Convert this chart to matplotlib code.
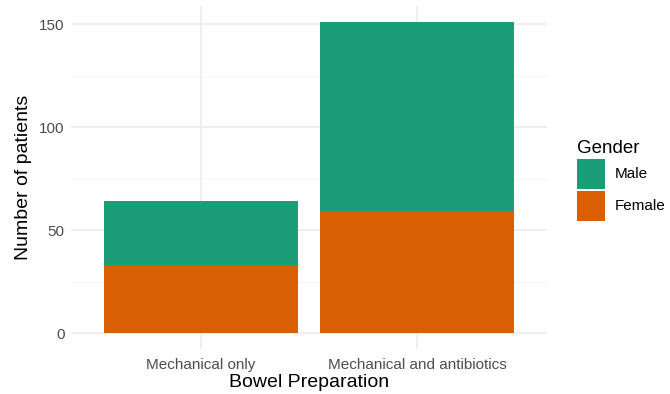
import matplotlib
matplotlib.use("Agg")
import matplotlib.pyplot as plt
from matplotlib.patches import Patch
import numpy as np

categories = ["Mechanical only", "Mechanical and antibiotics"]
female = [33, 59]
male = [31, 92]
series_names = ["Male", "Female"]
colors = {"Male": "#1B9E77", "Female": "#D95F02"}
y_ticks = [0, 50, 100, 150]

plt.rcParams['font.family'] = ['Liberation Sans', 'DejaVu Sans']

fig = plt.figure(figsize=(6.7, 3.94), dpi=100)
W, H = 670, 394
left, right, top, bottom = 71.4, 546.6, 6.4, 348.6
ax = fig.add_axes([left / W, 1 - bottom / H, (right - left) / W, (bottom - top) / H])

x = np.arange(1, len(categories) + 1)
ax.bar(x, female, width=0.9, color=colors["Female"], zorder=3)
ax.bar(x, male, width=0.9, bottom=female, color=colors["Male"], zorder=3)

total_max = max(f + m for f, m in zip(female, male))
pad = total_max * 0.05
ax.set_ylim(-pad, total_max + pad)
ax.set_xlim(0.4, len(categories) + 0.6)

ax.set_yticks(y_ticks)
ax.set_yticks([25, 75, 125], minor=True)
ax.set_xticks(x)
ax.set_xticklabels(categories)
ax.grid(True, which='major', color='#EBEBEB', linewidth=1.1, zorder=0)
ax.grid(True, which='minor', axis='y', color='#F3F3F3', linewidth=0.6, zorder=0)
for s in ax.spines.values():
    s.set_visible(False)
ax.tick_params(axis='both', which='both', length=0, labelsize=11, labelcolor='#4D4D4D')
ax.tick_params(axis='x', pad=7)
ax.tick_params(axis='y', pad=5)

ax.set_xlabel("Bowel Preparation", fontsize=14, color='black', labelpad=1)
ax.set_ylabel("Number of patients", fontsize=14, color='black', labelpad=5)

handles = [Patch(facecolor=colors[n], edgecolor='none') for n in series_names]
leg = fig.legend(handles, series_names, title="Gender", loc='upper left',
                 bbox_to_anchor=(577 / W, 1 - 140 / H), frameon=False,
                 fontsize=11, title_fontsize=13.5, handlelength=1.85, handleheight=2.64,
                 labelspacing=0.12, handletextpad=0.65, borderpad=0.0, borderaxespad=0)
leg._legend_box.align = "left"

fig.savefig("out.png", dpi=100)
